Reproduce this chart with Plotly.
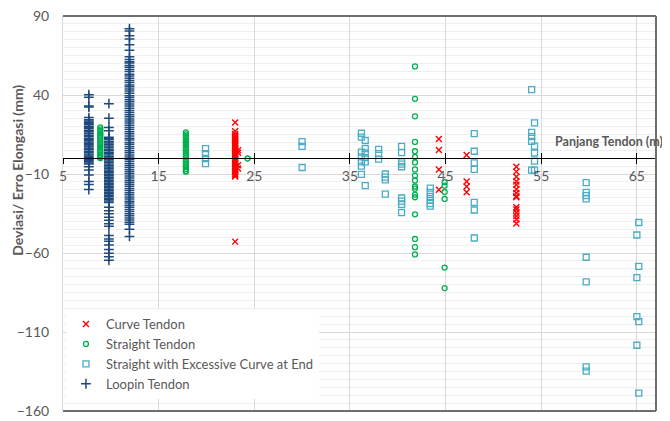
import plotly.graph_objects as go

# ---------------- data ----------------
# Curve Tendon (red x)
curve_cols = [23.0, 23.3, 44.3, 47.2, 52.4]
curve_vals = [
    [22.6, 17.0, 15.3, 14.3, 13.2, 12.6, 11.5, 10.8, 9.6, 9.0, 7.9, 7.2, 6.0, 5.4, 4.5,
     3.3, 2.7, 1.5, 0.9, -0.2, -1.1, -1.8, -3.0, -3.6, -4.8, -5.5, -6.6, -7.2, -8.4,
     -9.0, -10.1, -10.9, -11.6, -52.8],
    [5.0, 3.5, -4.4, -6.5],
    [12.2, 5.2, -7.1, -19.9],
    [2.0, -14.8, -17.9, -21.6],
    [-5.4, -8.5, -11.7, -14.8, -16.8, -19.6, -22.0, -24.1, -24.7, -31.0, -32.4,
     -34.5, -36.6, -38.6, -41.4],
]

# Straight Tendon (green circles)
straight_cols = [8.9, 17.85, 24.3, 41.8, 44.9]
straight_vals = [
    [19.5, 18.2, 17.2, 15.9, 14.8, 13.6, 12.5, 11.3, 10.0, 8.9, 7.7, 6.6, 5.3, 4.2,
     3.0, 1.9, 0.8, 0.0],
    [16.4, 15.1, 14.0, 12.8, 11.4, 10.3, 9.0, 7.9, 6.6, 5.3, 4.2, 2.9, 1.6, 0.5,
     -0.8, -2.0, -3.3, -4.4, -5.7, -6.9, -8.0, -8.5],
    [-0.2],
    [58.1, 37.6, 26.5, 10.3, 4.4, 0.8, -2.7, -7.1, -11.0, -14.1, -17.9, -19.3, -23.0,
     -24.7, -35.5, -51.1, -56.3, -60.9],
    [-15.2, -17.4, -21.4, -25.8, -69.2, -82.2],
]

# Straight with Excessive Curve at End (light blue squares)
excess_cols = [19.9, 30.0, 36.2, 36.6, 38.0, 38.7, 40.4, 43.4, 48.0, 54.0, 54.3,
               59.7, 65.0, 65.2]
excess_vals = [
    [6.0, 2.9, -0.2, -3.4],
    [10.5, 7.5, -5.9],
    [15.8, 13.3, 3.9, 0.8, -2.3, -5.0, -10.2],
    [11.2, 6.0, 3.3, 0.4, -2.3, -17.3],
    [5.6, 2.9, -0.6],
    [-10.0, -12.0, -13.7, -22.7],
    [7.5, 3.5, -2.3, -3.7, -5.4, -25.2, -27.2, -29.3, -34.5],
    [-19.0, -21.6, -24.1, -26.6, -28.7, -30.3],
    [15.6, 4.4, -2.9, -7.1, -27.9, -32.8, -50.5],
    [43.4, 16.4, 13.7, 10.6, -7.5],
    [22.4, 7.7, 3.3, -1.9, -7.5],
    [-15.4, -21.6, -23.7, -25.8, -62.7, -78.3, -132.1, -134.8],
    [-48.6, -75.6, -100.3, -118.4],
    [-40.7, -68.5, -103.4, -148.7],
]

# Loopin Tendon (dark blue plus)
loopin_cols = [7.7, 9.8, 11.95]
loopin_vals = [
    [40.2, 38.6, 33.0, 32.4, 25.7, 24.4, 23.6, 22.7, 21.8, 21.1, 20.1, 19.4, 18.7,
     17.6, 17.0, 16.0, 15.4, 14.4, 13.7, 12.7, 12.0, 11.2, 10.2, 9.5, 8.5, 7.8, 7.1,
     6.0, 5.4, 4.3, 3.7, 2.7, 2.0, 1.0, 0.4, -0.7, -1.3, -2.3, -3.0, -3.6, -5.4,
     -7.4, -10.6, -14.8, -16.6, -19.8],
    [34.5, 25.3, 19.5, 17.4, 13.3, 12.4, 11.7, 10.4, 9.6, 8.6, 7.8, 6.7, 5.7, 4.8,
     3.8, 2.9, 2.0, 0.9, 0.1, -0.8, -1.8, -2.6, -3.7, -4.6, -5.5, -6.4, -7.4, -8.3,
     -9.2, -10.2, -11.1, -12.1, -13.0, -14.0, -14.9, -15.9, -16.8, -17.8, -18.7,
     -19.6, -20.6, -21.5, -22.5, -23.4, -24.3, -25.3, -26.2, -27.1, -28.0, -31.0,
     -33.2, -35.1, -37.4, -39.3, -41.5, -43.0, -49.0, -51.2, -52.5, -55.0, -57.8,
     -60.2, -62.4, -64.6],
    [82.0, 80.5, 77.5, 75.5, 71.8, 68.3, 64.2, 62.5, 61.0, 60.2, 58.7, 57.5, 56.1,
     54.8, 53.2, 52.0, 50.6, 49.1, 47.9, 46.4, 45.2, 43.8, 42.5, 41.1, 39.6, 38.4,
     37.0, 35.7, 34.3, 33.0, 31.6, 30.2, 29.0, 27.5, 26.3, 24.8, 23.6, 22.2, 20.9,
     19.4, 18.1, 16.8, 15.4, 14.1, 12.7, 11.5, 10.0, 8.8, 7.4, 6.1, 4.7, 3.4, 2.0,
     0.8, -0.6, -1.9, -3.3, -4.6, -5.9, -7.3, -8.5, -9.9, -11.2, -12.6, -13.9,
     -15.3, -16.5, -17.8, -19.2, -20.5, -21.9, -23.1, -24.5, -25.8, -27.2, -28.4,
     -29.8, -31.1, -32.5, -33.7, -35.1, -36.4, -37.8, -39.1, -40.6, -41.8, -45.0,
     -49.5],
]

x_ticks = [5, 15, 25, 35, 45, 55, 65]
y_ticks = [90, 40, -10, -60, -110, -160]
X_RANGE = [5, 67]
Y_RANGE = [-160, 90]


def flatten(cols, vals):
    xs, ys = [], []
    for c, v in zip(cols, vals):
        xs.extend([c] * len(v))
        ys.extend(v)
    return xs, ys


FONT = "Lato, 'Open Sans', sans-serif"
GREY = "#595959"

fig = go.Figure()

series = [
    ("Curve Tendon", curve_cols, curve_vals, "x-thin-open", "#FF0000", 6, 1.4),
    ("Straight Tendon", straight_cols, straight_vals, "circle-open", "#00B050", 5, 1.3),
    ("Straight with Excessive Curve at End", excess_cols, excess_vals, "square-open",
     "#4BACC6", 6, 1.3),
    ("Loopin Tendon", loopin_cols, loopin_vals, "cross-thin-open", "#1F497D", 7, 1.5),
]
for name, cols, vals, sym, col, size, lw in series:
    xs, ys = flatten(cols, vals)
    fig.add_trace(go.Scatter(
        x=xs, y=ys, mode="markers", name=name,
        marker=dict(symbol=sym, size=size, color=col, line=dict(color=col, width=lw)),
    ))

# second x axis only to get cross-shaped tick marks on the zero line
fig.add_trace(go.Scatter(x=[X_RANGE[0]], y=[0], xaxis="x2", mode="markers",
                         marker=dict(opacity=0), showlegend=False, hoverinfo="skip"))

zero_pos = (0 - Y_RANGE[0]) / (Y_RANGE[1] - Y_RANGE[0])

# the page body has an 8px margin, so the figure is 8px smaller than the window
fig.update_layout(
    width=662, height=413,
    margin=dict(l=55, r=14, t=8, b=10, autoexpand=False),
    paper_bgcolor="white", plot_bgcolor="white",
    font=dict(family=FONT, color=GREY),
    showlegend=True,
    legend=dict(x=0.005, y=0.258, xanchor="left", yanchor="top",
                bgcolor="white", font=dict(size=13, color=GREY, family=FONT),
                tracegroupgap=0, itemwidth=30),
    xaxis=dict(range=X_RANGE, tickvals=x_ticks, showgrid=True, gridcolor="#D9D9D9",
               gridwidth=1, zeroline=False, showline=True, linecolor="black",
               linewidth=1, ticks="outside", ticklen=5, tickcolor="black",
               anchor="free", position=zero_pos, automargin=False,
               ticklabeloverflow="allow",
               tickfont=dict(size=14, color=GREY, family=FONT)),
    xaxis2=dict(range=X_RANGE, tickvals=x_ticks, overlaying="x", matches="x",
                anchor="free", position=zero_pos, showgrid=False, zeroline=False,
                showline=False, ticks="inside", ticklen=5, tickcolor="black",
                showticklabels=False, automargin=False),
    yaxis=dict(range=Y_RANGE, tickvals=y_ticks, showgrid=True, gridcolor="#D9D9D9",
               gridwidth=1, zeroline=False, showline=True, linecolor="#D9D9D9",
               ticks="", ticklabelstandoff=10, automargin=False,
               ticklabeloverflow="allow",
               tickfont=dict(size=14, color=GREY, family=FONT),
               minor=dict(dtick=5, tick0=0, showgrid=True, gridcolor="#EFEFEF",
                          gridwidth=1)),
)

# plot-area frame (top, right, bottom)
for x0, y0, x1, y1 in [(0, 1, 1, 1), (1, 0, 1, 1), (0, 0, 1, 0)]:
    fig.add_shape(type="line", xref="paper", yref="paper", x0=x0, y0=y0, x1=x1, y1=y1,
                  line=dict(color="#6E6E6E", width=2), layer="above")

fig.add_annotation(text="<b>Panjang Tendon (m)</b>", xref="paper", yref="paper",
                   x=1.0155, y=zero_pos + 0.018, xanchor="right", yanchor="bottom",
                   showarrow=False, font=dict(size=12.5, color=GREY, family=FONT))
fig.add_annotation(text="<b>Deviasi/ Erro Elongasi (mm)</b>", xref="paper",
                   yref="paper", x=-0.078, y=0.61, xanchor="center", yanchor="middle",
                   textangle=-90, showarrow=False,
                   font=dict(size=14, color=GREY, family=FONT))

fig.write_html("out.html")
